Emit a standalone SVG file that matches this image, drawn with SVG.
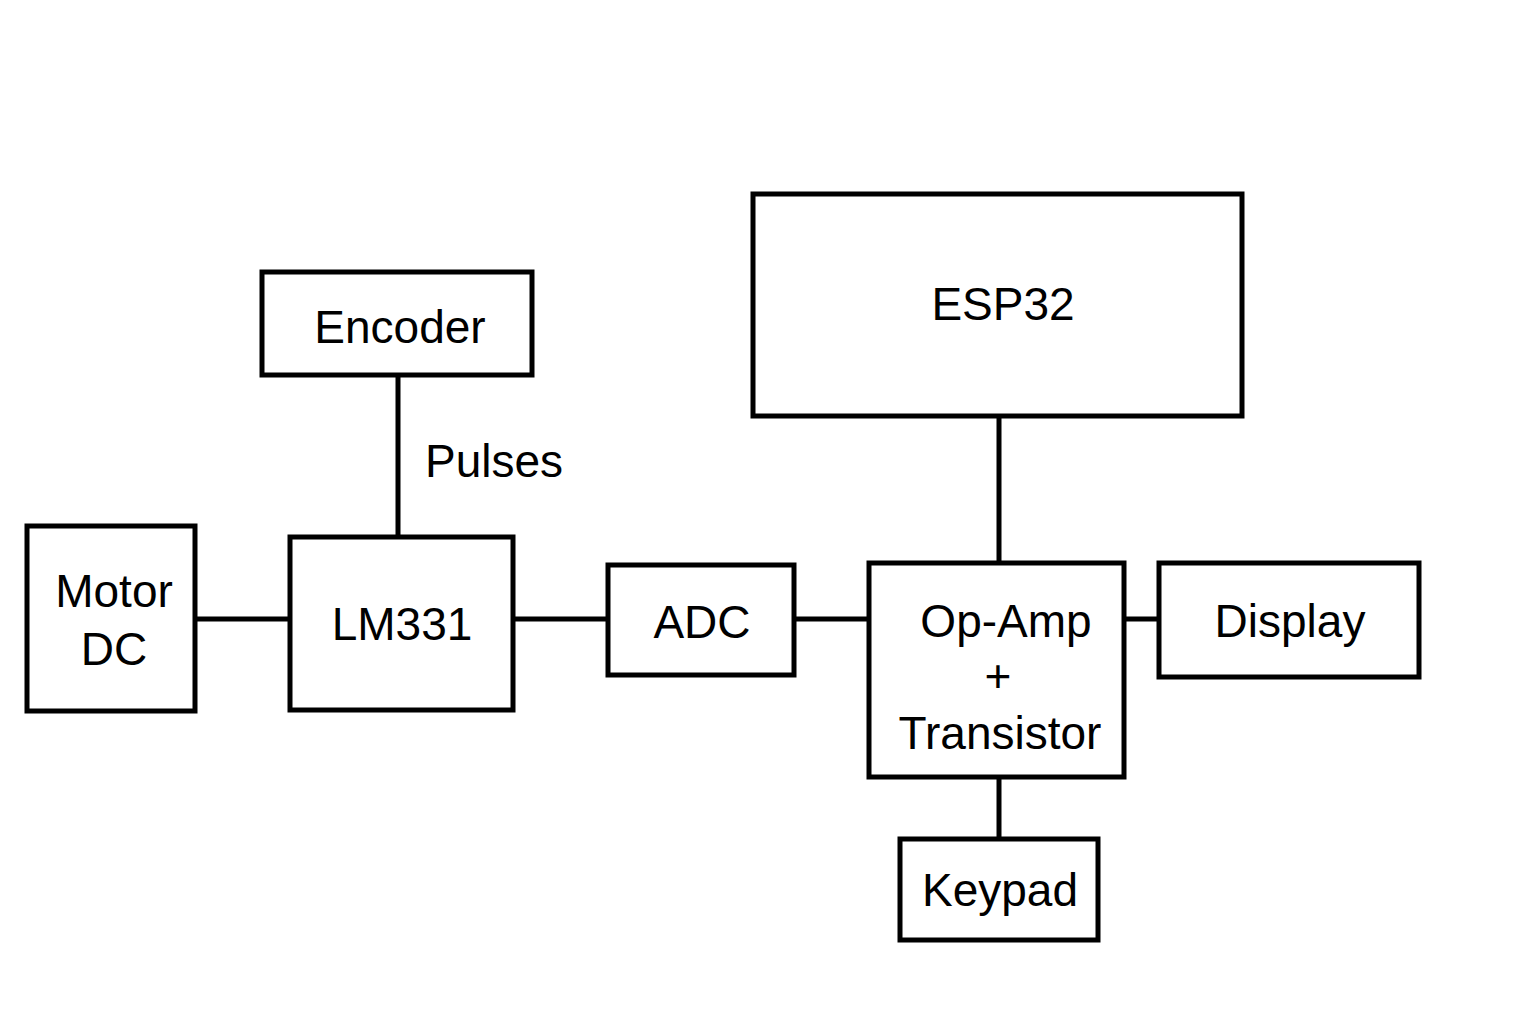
<svg xmlns="http://www.w3.org/2000/svg" width="1536" height="1024" viewBox="0 0 1536 1024">
<style>
.box{fill:#fff;stroke:#000;stroke-width:5}
.wire{stroke:#000;stroke-width:5;fill:none}
text{font-family:"Liberation Sans",Arial,sans-serif;font-size:46px;fill:#000;text-anchor:middle}
</style>
<rect width="1536" height="1024" fill="#fff"/>
<g id="connectors">
<line class="wire" x1="398" y1="375" x2="398" y2="537"/>
<line class="wire" x1="195" y1="619" x2="290" y2="619"/>
<line class="wire" x1="513" y1="619" x2="608" y2="619"/>
<line class="wire" x1="794" y1="619" x2="869" y2="619"/>
<line class="wire" x1="1124" y1="619" x2="1159" y2="619"/>
<line class="wire" x1="999" y1="416" x2="999" y2="563"/>
<line class="wire" x1="999" y1="777" x2="999" y2="839"/>
<text x="425" y="477" style="text-anchor:start">Pulses</text>
</g>
<g id="encoder"><rect class="box" x="262" y="272" width="270" height="103"/><text x="400" y="343">Encoder</text></g>
<g id="motor"><rect class="box" x="27" y="526" width="168" height="185"/><text x="114" y="607">Motor</text><text x="114" y="665">DC</text></g>
<g id="lm331"><rect class="box" x="290" y="537" width="223" height="173"/><text x="402" y="640">LM331</text></g>
<g id="adc"><rect class="box" x="608" y="565" width="186" height="110"/><text x="702" y="638">ADC</text></g>
<g id="esp32"><rect class="box" x="753" y="194" width="489" height="222"/><text x="1003" y="320">ESP32</text></g>
<g id="opamp"><rect class="box" x="869" y="563" width="255" height="214"/><text x="1006" y="637">Op-Amp</text><text x="998" y="692">+</text><text x="1000" y="749">Transistor</text></g>
<g id="display"><rect class="box" x="1159" y="563" width="260" height="114"/><text x="1290" y="637">Display</text></g>
<g id="keypad"><rect class="box" x="900" y="839" width="198" height="101"/><text x="1000" y="906">Keypad</text></g>
</svg>
